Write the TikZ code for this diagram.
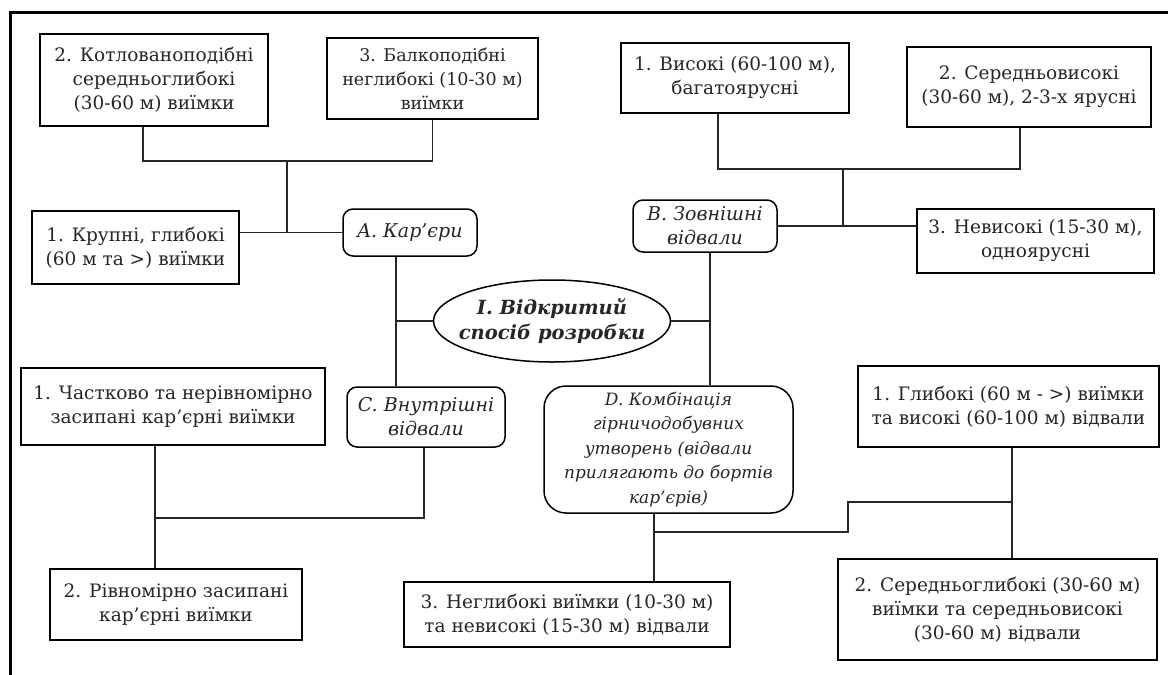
\documentclass[tikz,border=0pt]{standalone}
\usepackage{fontspec}
\setmainfont{DejaVu Serif}
\usetikzlibrary{shapes.geometric}
\begin{document}
\begin{tikzpicture}[x=1pt,y=-1pt,
  txt/.style={font=\fontsize{18.5}{24}\selectfont, align=center, inner sep=0pt, text=black!85},
  box/.style={txt, draw=black, line width=1.5pt},
  rbox/.style={box, rounded corners=10pt, font=\fontsize{19}{24}\selectfont\itshape},
  ell/.style={draw=black, line width=1.5pt, ellipse, inner sep=0pt},
  etxt/.style={txt, font=\fontsize{19.5}{25}\selectfont\bfseries\itshape},
  link/.style={draw=black!85, line width=1.5pt}
]
\useasboundingbox (0,0) rectangle (1168,675);
\fill[white] (0,0) rectangle (1168,675);
% frame
\draw[line width=2.6pt] (10.7,675) -- (10.7,12.7) -- (1168,12.7);

% nodes
\node[box, minimum width=228, minimum height=92] (k2) at (154,80) {2. Котлованоподібні\\середньоглибокі\\(30-60 м) виїмки};
\node[box, minimum width=211, minimum height=81, font=\fontsize{17.5}{24}\selectfont] (k3) at (432.5,78.5) {3. Балкоподібні\\неглибокі (10-30 м)\\виїмки};
\node[box, minimum width=207, minimum height=73] (k1) at (135.5,247.5) {1. Крупні, глибокі\\(60 м та >) виїмки};
\node[rbox, minimum width=134, minimum height=47] (A) at (410,232.5) {A. Кар'єри};
\node[ell, minimum width=237, minimum height=82] (E) at (552,321) {};
\node[etxt] (Et) at (E.center) {I. Відкритий\\спосіб розробки};
\node[rbox, minimum width=144, minimum height=52] (B) at (705,226) {B. Зовнішні\\відвали};
\node[box, minimum width=228, minimum height=70] (b1) at (735,78) {1. Високі (60-100 м),\\багатоярусні};
\node[box, minimum width=244, minimum height=80] (b2) at (1029,87) {2. Середньовисокі\\(30-60 м), 2-3-х ярусні};
\node[box, minimum width=237, minimum height=64] (b3) at (1035.5,241) {3. Невисокі (15-30 м),\\одноярусні};
\node[box, minimum width=304, minimum height=77] (c1) at (173,406.5) {1. Частково та нерівномірно\\засипані кар’єрні виїмки};
\node[rbox, minimum width=158, minimum height=60] (C) at (426,417) {C. Внутрішні\\відвали};
\node[box, minimum width=252, minimum height=71] (c2) at (176,604.5) {2. Рівномірно засипані\\кар’єрні виїмки};
\node[rbox, rounded corners=22pt, minimum width=249, minimum height=127, font=\fontsize{17}{24.5}\selectfont\itshape] (D) at (668.5,449.5) {D. Комбінація\\гірничодобувних\\утворень (відвали\\прилягають до бортів\\кар’єрів)};
\node[box, minimum width=326, minimum height=65] (d3) at (567,614.5) {3. Неглибокі виїмки (10-30 м)\\та невисокі (15-30 м) відвали};
\node[box, minimum width=301, minimum height=81] (d1) at (1008.5,406.5) {1. Глибокі (60 м - >) виїмки\\та високі (60-100 м) відвали};
\node[box, minimum width=319, minimum height=101] (d2) at (997.5,609.5) {2. Середньоглибокі (30-60 м)\\виїмки та середньовисокі\\(30-60 м) відвали};

% junction coordinates
\coordinate (jA) at (287,161);
\coordinate (xk2) at (143,0);
\coordinate (xA) at (396,0);
\coordinate (xB) at (710,0);
\coordinate (jB) at (843,169);
\coordinate (xb1) at (718,0);
\coordinate (xb2) at (1020,0);
\coordinate (jC) at (155,518);
\coordinate (xC) at (424,0);
\coordinate (jD) at (654,532);
\coordinate (jD2) at (848,502);
\coordinate (xd) at (1012,0);

% connectors
\draw[link] (k2.south -| xk2) |- (jA) -| (k3.south);
\draw[link] (jA) -- (jA |- A.west);
\draw[link] (k1.east |- A.west) -- (A.west);
\draw[link] (A.south -| xA) -- (C.north -| xA);
\draw[link] (xA |- E.west) -- (E.west);
\draw[link] (B.south -| xB) -- (D.north -| xB);
\draw[link] (E.east) -- (E.east -| xB);
\draw[link] (b1.south -| xb1) |- (jB) -| (b2.south -| xb2);
\draw[link] (jB) -- (jB |- B.east);
\draw[link] (B.east) -- (B.east -| b3.west);
\draw[link] (c1.south -| jC) -- (c2.north -| jC);
\draw[link] (jC) -| (C.south -| xC);
\draw[link] (D.south -| jD) -- (d3.north -| jD);
\draw[link] (jD) -| (jD2) -- (jD2 -| xd);
\draw[link] (d1.south -| xd) -- (d2.north -| xd);
\end{tikzpicture}
\end{document}
